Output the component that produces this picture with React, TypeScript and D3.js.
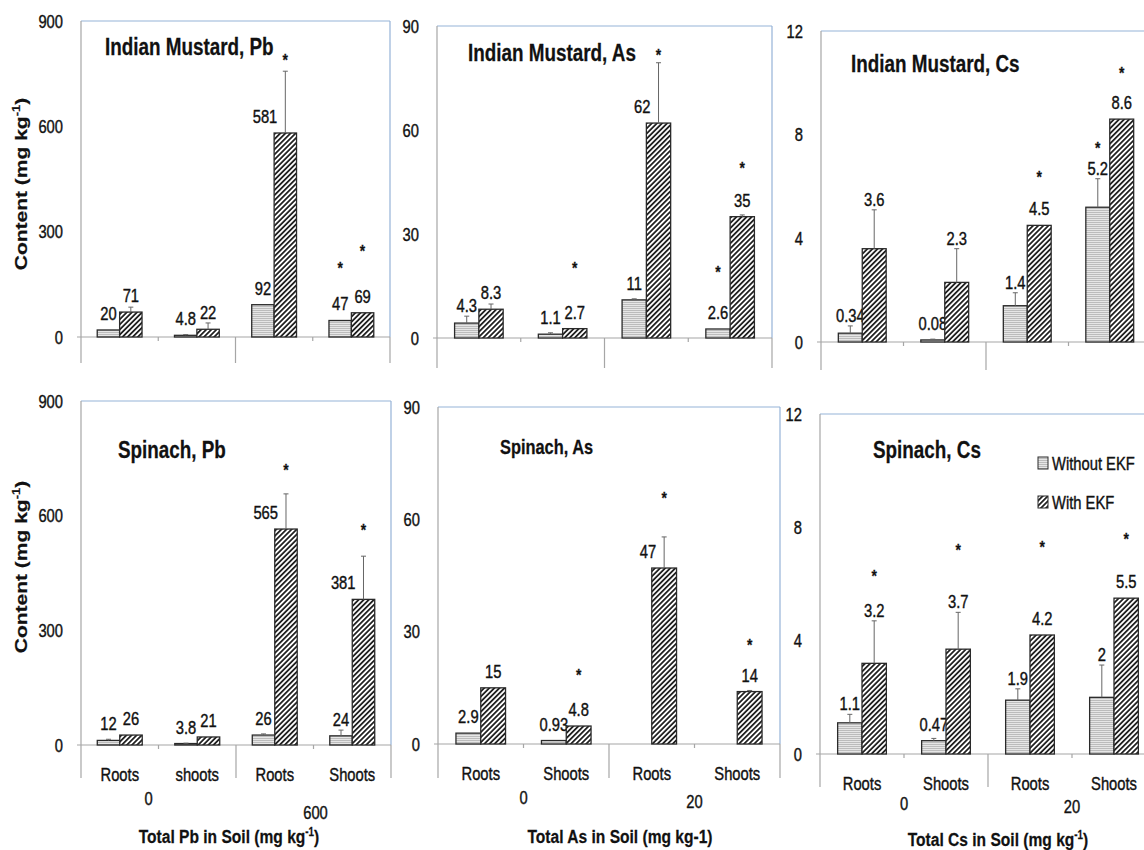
import React, { useEffect, useRef } from "react";
import * as d3 from "d3";

// x-axis labels (bottom row only)
const pbCategories = ["Roots", "shoots", "Roots", "Shoots"];
const asCsCategories = ["Roots", "Shoots", "Roots", "Shoots"];
const pbSoilLevels = ["0", "600"];
const asCsSoilLevels = ["0", "20"];
const seriesNames = ["Without EKF", "With EKF"];

const pbTicks = [0, 300, 600, 900];
const asTicks = [0, 30, 60, 90];
const csTicks = [0, 4, 8, 12];

// Indian mustard, Pb
const imPbWithout = [20, 4.8, 92, 47];
const imPbWith = [71, 22, 581, 69];
const imPbErrWithout = [0, 2, 0, 0];
const imPbErrWith = [14, 18, 176, 0];
const imPbStarWithout = [null, null, null, 205];
const imPbStarWith = [null, null, 797, 253];

// Indian mustard, As
const imAsWithout = [4.3, 1.1, 11, 2.6];
const imAsWith = [8.3, 2.7, 62, 35];
const imAsErrWithout = [2, 0.4, 0.3, 0];
const imAsErrWith = [1.5, 0, 17.4, 0.5];
const imAsStarWithout = [null, null, null, 20];
const imAsStarWith = [null, 21, 82.5, 50];

// Indian mustard, Cs
const imCsWithout = [0.34, 0.08, 1.4, 5.2];
const imCsWith = [3.6, 2.3, 4.5, 8.6];
const imCsErrWithout = [0.28, 0.03, 0.5, 1.1];
const imCsErrWith = [1.5, 1.3, 0, 0];
const imCsStarWithout = [null, null, null, 7.6];
const imCsStarWith = [null, null, 6.5, 10.5];

// Spinach, Pb
const spPbWithout = [12, 3.8, 26, 24];
const spPbWith = [26, 21, 565, 381];
const spPbErrWithout = [3, 1, 3, 15];
const spPbErrWith = [0, 0, 92, 113];
const spPbStarWithout = [null, null, null, null];
const spPbStarWith = [null, null, 727, 570];

// Spinach, As
const spAsWithout = [2.9, 0.93, null, null];
const spAsWith = [15, 4.8, 47, 14];
const spAsErrWithout = [0, 0, 0, 0];
const spAsErrWith = [0, 0, 8.3, 0.3];
const spAsStarWithout = [null, null, null, null];
const spAsStarWith = [null, 19.2, 66.5, 27.2];

// Spinach, Cs
const spCsWithout = [1.1, 0.47, 1.9, 2];
const spCsWith = [3.2, 3.7, 4.2, 5.5];
const spCsErrWithout = [0.3, 0.08, 0.4, 1.14];
const spCsErrWith = [1.5, 1.3, 0, 0];
const spCsStarWithout = [null, null, null, null];
const spCsStarWith = [6.4, 7.3, 7.4, 7.7];

const SANS = "'Liberation Sans', Arial, sans-serif";
const SX = 0.82; // the whole figure is squeezed horizontally

const panels = [
  { title: "Indian Mustard, Pb", titleX: 105, titleY: 55, titleSize: 23, left: 81, right: 390, top: 21, zero: 337, tickEnd: 363, ticks: pbTicks,
    without: imPbWithout, with: imPbWith, errWithout: imPbErrWithout, errWith: imPbErrWith, starWithout: imPbStarWithout, starWith: imPbStarWith, side: [2], yTitleY: 184 },
  { title: "Indian Mustard, As", titleX: 468, titleY: 61, titleSize: 23, left: 437, right: 772, top: 26, zero: 338, tickEnd: 368, ticks: asTicks,
    without: imAsWithout, with: imAsWith, errWithout: imAsErrWithout, errWith: imAsErrWith, starWithout: imAsStarWithout, starWith: imAsStarWith, side: [2] },
  { title: "Indian Mustard, Cs", titleX: 851, titleY: 72, titleSize: 23, left: 821, right: 1151, top: 31, zero: 342, tickEnd: 370, ticks: csTicks,
    without: imCsWithout, with: imCsWith, errWithout: imCsErrWithout, errWith: imCsErrWith, starWithout: imCsStarWithout, starWith: imCsStarWith, side: [] },
  { title: "Spinach, Pb", titleX: 118, titleY: 458, titleSize: 23, left: 81, right: 391, top: 401, zero: 745, tickEnd: 778, ticks: pbTicks,
    without: spPbWithout, with: spPbWith, errWithout: spPbErrWithout, errWith: spPbErrWith, starWithout: spPbStarWithout, starWith: spPbStarWith, side: [2, 3],
    categories: pbCategories, levels: pbSoilLevels, levelDx: [-10, 2], levelDy: [60, 74], axisTitle: ["Total Pb in Soil (mg kg", "-1", ")"], axisTitleX: 229, axisTitleDy: 98, yTitleY: 567 },
  { title: "Spinach, As", titleX: 500, titleY: 454, titleSize: 20, left: 438, right: 780, top: 407, zero: 744, tickEnd: 778, ticks: asTicks,
    without: spAsWithout, with: spAsWith, errWithout: spAsErrWithout, errWith: spAsErrWith, starWithout: spAsStarWithout, starWith: spAsStarWith, side: [2],
    categories: asCsCategories, levels: asCsSoilLevels, levelDx: [0, 0], levelDy: [60, 64], axisTitle: ["Total As in Soil (mg kg-1)", "", ""], axisTitleX: 620, axisTitleDy: 99 },
  { title: "Spinach, Cs", titleX: 873, titleY: 458, titleSize: 23, left: 820, right: 1156, top: 414, zero: 754, tickEnd: 787, ticks: csTicks,
    without: spCsWithout, with: spCsWith, errWithout: spCsErrWithout, errWith: spCsErrWith, starWithout: spCsStarWithout, starWith: spCsStarWith, side: [],
    categories: asCsCategories, levels: asCsSoilLevels, levelDx: [0, 0], levelDy: [56, 59], axisTitle: ["Total Cs in Soil (mg kg", "-1", ")"], axisTitleX: 998, axisTitleDy: 92, legend: true },
];

// narrow text: normal font squeezed along x, lightly stroked to look heavier
function addText(parent: any, x: number, y: number, str: string, size: number, anchor = "start", bold = false) {
  return parent.append("text")
    .attr("transform", `translate(${x},${y}) scale(${SX},1)`)
    .attr("text-anchor", anchor)
    .attr("font-family", SANS)
    .attr("font-size", size)
    .attr("font-weight", bold ? "bold" : "normal")
    .attr("fill", "#111")
    .attr("stroke", "#111")
    .attr("stroke-width", bold ? 0.25 : 0.4)
    .text(str);
}

function App() {
  const ref = useRef<SVGSVGElement>(null);

  useEffect(() => {
    const svg = d3.select(ref.current);
    svg.selectAll("*").remove();

    const defs = svg.append("defs");
    const hz = defs.append("pattern").attr("id", "pWithout").attr("patternUnits", "userSpaceOnUse")
      .attr("width", 4).attr("height", 2);
    hz.append("rect").attr("width", 4).attr("height", 2).attr("fill", "#e6e6e6");
    hz.append("rect").attr("width", 4).attr("height", 1).attr("fill", "#bcbcbc");
    const dg = defs.append("pattern").attr("id", "pWith").attr("patternUnits", "userSpaceOnUse")
      .attr("width", 3.6).attr("height", 3.6).attr("patternTransform", "rotate(45)");
    dg.append("rect").attr("width", 3.6).attr("height", 3.6).attr("fill", "#fff");
    dg.append("rect").attr("width", 1.8).attr("height", 3.6).attr("fill", "#222");

    panels.forEach((p: any) => {
      const g = svg.append("g");
      const y = d3.scaleLinear().domain([0, p.ticks[p.ticks.length - 1]]).range([p.zero, p.top]);
      const x = d3.scaleBand<number>().domain([0, 1, 2, 3]).range([p.left, p.right]);
      const bw = x.bandwidth();
      const xs = d3.scaleBand<string>().domain(["without", "with"]).range([bw * 0.21, bw * 0.79]);

      // frame
      g.append("line").attr("x1", p.left).attr("x2", p.right).attr("y1", p.top).attr("y2", p.top)
        .attr("stroke", "#95b3d7").attr("stroke-width", 1.2);
      g.append("line").attr("x1", p.right).attr("x2", p.right).attr("y1", p.top).attr("y2", p.zero)
        .attr("stroke", "#95b3d7").attr("stroke-width", 1.2);
      g.append("line").attr("x1", p.left).attr("x2", p.left).attr("y1", p.top).attr("y2", p.zero)
        .attr("stroke", "#a6a6a6").attr("stroke-width", 1.2);
      g.append("line").attr("x1", p.left - 4).attr("x2", p.right).attr("y1", p.zero).attr("y2", p.zero)
        .attr("stroke", "#a6a6a6").attr("stroke-width", 1.2);

      // category ticks: long ones between soil levels, short ones between categories
      [0, 1, 2, 3, 4].forEach((i) => {
        const xx = p.left + i * bw;
        g.append("line").attr("x1", xx).attr("x2", xx).attr("y1", p.zero)
          .attr("y2", i % 2 === 0 ? p.tickEnd : p.zero + 4)
          .attr("stroke", "#a6a6a6").attr("stroke-width", 1.2);
      });

      // y tick labels
      p.ticks.forEach((t: number) => addText(g, p.left - 18, y(t) + 6.5, String(t), 18, "end"));

      // panel title
      addText(g, p.titleX, p.titleY, p.title, p.titleSize, "start", true);

      const series = [
        { key: "without", vals: p.without, errs: p.errWithout, stars: p.starWithout, fill: "url(#pWithout)", side: [] },
        { key: "with", vals: p.with, errs: p.errWith, stars: p.starWith, fill: "url(#pWith)", side: p.side },
      ];

      series.forEach((s) => {
        const rows = s.vals.map((v: number | null, i: number) => ({ v, i, e: s.errs[i], star: s.stars[i] }))
          .filter((d: any) => d.v !== null);
        const cx = (d: any) => (x(d.i) as number) + (xs(s.key) as number) + xs.bandwidth() / 2;

        g.selectAll(".bar-" + s.key).data(rows).enter().append("rect")
          .attr("x", (d: any) => (x(d.i) as number) + (xs(s.key) as number))
          .attr("y", (d: any) => y(d.v))
          .attr("width", xs.bandwidth())
          .attr("height", (d: any) => p.zero - y(d.v))
          .attr("fill", s.fill).attr("stroke", "#2a2a2a").attr("stroke-width", 1.3);

        g.selectAll(".err-" + s.key).data(rows.filter((d: any) => d.e > 0)).enter().append("path")
          .attr("d", (d: any) => {
            const t = y(d.v + d.e);
            return `M${cx(d)},${y(d.v)}V${t}M${cx(d) - 2.5},${t}H${cx(d) + 2.5}`;
          })
          .attr("stroke", "#666").attr("stroke-width", 1).attr("fill", "none");

        rows.forEach((d: any) => {
          const side = s.side.includes(d.i);
          const ly = side ? y(d.v) - 10 : Math.min(y(d.v) - 10, y(d.v + d.e) - 4);
          addText(g, side ? cx(d) - 8 : cx(d), ly, String(d.v), 18, side ? "end" : "middle");
          if (d.star !== null) addText(g, cx(d), y(d.star) + 9, "*", 17, "middle", true);
        });
      });

      if (p.categories) {
        p.categories.forEach((c: string, i: number) => addText(g, (x(i) as number) + bw / 2, p.zero + 36, c, 18, "middle"));
        p.levels.forEach((l: string, i: number) =>
          addText(g, p.left + bw * (2 * i + 1) + p.levelDx[i], p.zero + p.levelDy[i], l, 18, "middle"));
        const at = addText(g, p.axisTitleX, p.zero + p.axisTitleDy, "", 19, "middle", true);
        at.append("tspan").text(p.axisTitle[0]);
        if (p.axisTitle[1]) {
          at.append("tspan").attr("dy", -7).attr("font-size", 12).text(p.axisTitle[1]);
          at.append("tspan").attr("dy", 7).text(p.axisTitle[2]);
        }
      }

      if (p.yTitleY) {
        const yt = g.append("text")
          .attr("transform", `translate(27,${p.yTitleY}) rotate(-90) scale(1,${SX})`)
          .attr("text-anchor", "middle").attr("font-family", SANS).attr("font-weight", "bold")
          .attr("font-size", 21).attr("fill", "#111").attr("stroke", "#111").attr("stroke-width", 0.25);
        yt.append("tspan").text("Content (mg kg");
        yt.append("tspan").attr("dy", -8).attr("font-size", 13).text("-1");
        yt.append("tspan").attr("dy", 8).text(")");
      }

      if (p.legend) {
        seriesNames.forEach((name, i) => {
          const ly = 463 + i * 39;
          g.append("rect").attr("x", 1038).attr("y", ly - 6).attr("width", 10).attr("height", 12)
            .attr("fill", i === 0 ? "url(#pWithout)" : "url(#pWith)").attr("stroke", "#2a2a2a").attr("stroke-width", 1);
          addText(g, 1052, ly + 6.5, name, 18);
        });
      }
    });
  }, []);

  return (
    <>
      <style>{`body{margin:0}`}</style>
      <svg ref={ref} width={1144} height={850} style={{ display: "block", background: "#fff" }} />
    </>
  );
}

export default App;
